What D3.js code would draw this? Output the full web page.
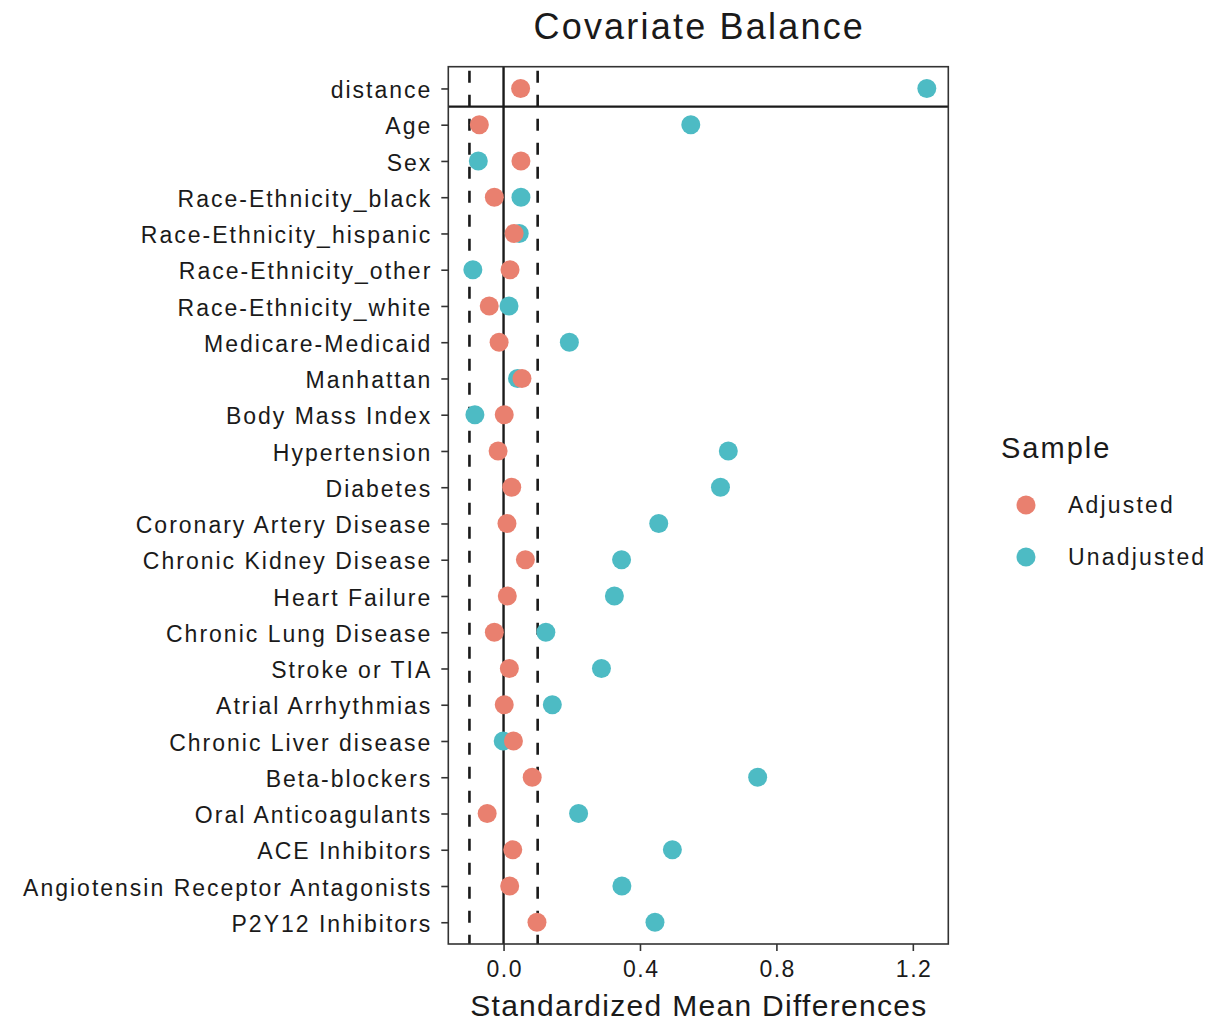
<!DOCTYPE html>
<html>
<head>
<meta charset="utf-8">
<script src="https://cdn.jsdelivr.net/npm/d3@7"></script>
<style>
  html, body { margin: 0; padding: 0; background: #fff; }
  svg { display: block; }
  text { font-family: "Liberation Sans", Arial, Helvetica, sans-serif; fill: #1a1a1a; }
</style>
</head>
<body>
<svg id="chart" width="1219" height="1024"></svg>
<script>
const covariates = [
  "distance", "Age", "Sex", "Race-Ethnicity_black", "Race-Ethnicity_hispanic",
  "Race-Ethnicity_other", "Race-Ethnicity_white", "Medicare-Medicaid", "Manhattan",
  "Body Mass Index", "Hypertension", "Diabetes", "Coronary Artery Disease",
  "Chronic Kidney Disease", "Heart Failure", "Chronic Lung Disease", "Stroke or TIA",
  "Atrial Arrhythmias", "Chronic Liver disease", "Beta-blockers", "Oral Anticoagulants",
  "ACE Inhibitors", "Angiotensin Receptor Antagonists", "P2Y12 Inhibitors"
];
const adjusted = [0.050, -0.071, 0.051, -0.027, 0.031, 0.019, -0.042, -0.013, 0.054, 0.002,
  -0.016, 0.024, 0.010, 0.064, 0.011, -0.027, 0.017, 0.002, 0.029, 0.084, -0.048, 0.027, 0.018, 0.098];
const unadjusted = [1.241, 0.549, -0.074, 0.051, 0.046, -0.090, 0.016, 0.193, 0.041, -0.084,
  0.659, 0.636, 0.455, 0.346, 0.325, 0.124, 0.287, 0.143, -0.001, 0.745, 0.220, 0.495, 0.347, 0.444];
const sampleNames = ["Adjusted", "Unadjusted"];
const sampleColors = ["#E9806F", "#4DBBC4"];
const xTicks = [0, 0.4, 0.8, 1.2];
const thresholds = [-0.1, 0.1];
const xDomain = [-0.162, 1.304];

const panel = { left: 448.3, top: 66.7, width: 500, height: 877.3 };
const svg = d3.select("#chart");

const x = d3.scaleLinear().domain(xDomain).range([panel.left, panel.left + panel.width]);
const y = d3.scalePoint().domain(covariates)
  .range([panel.top, panel.top + panel.height]).padding(0.6);
const color = d3.scaleOrdinal().domain(sampleNames).range(sampleColors);

// reference lines
const g = svg.append("g");
g.selectAll("line.thr").data(thresholds).join("line")
  .attr("class", "thr")
  .attr("x1", d => x(d)).attr("x2", d => x(d))
  .attr("y1", panel.top).attr("y2", panel.top + panel.height)
  .attr("stroke", "#1a1a1a").attr("stroke-width", 2.6)
  .attr("stroke-dasharray", "12,12").attr("stroke-dashoffset", -4);
g.append("line")
  .attr("x1", x(0)).attr("x2", x(0))
  .attr("y1", panel.top).attr("y2", panel.top + panel.height)
  .attr("stroke", "#1a1a1a").attr("stroke-width", 2.4);
// separator below distance
const sepY = (y(covariates[0]) + y(covariates[1])) / 2;
g.append("line")
  .attr("x1", panel.left).attr("x2", panel.left + panel.width)
  .attr("y1", sepY).attr("y2", sepY)
  .attr("stroke", "#1a1a1a").attr("stroke-width", 2.4);

// points: unadjusted first, adjusted on top
const pts = [];
covariates.forEach((c, i) => pts.push({ cov: c, val: unadjusted[i], s: "Unadjusted" }));
covariates.forEach((c, i) => pts.push({ cov: c, val: adjusted[i], s: "Adjusted" }));
svg.append("g").selectAll("circle").data(pts).join("circle")
  .attr("cx", d => x(d.val)).attr("cy", d => y(d.cov))
  .attr("r", 9.5).attr("fill", d => color(d.s));

// panel border
svg.append("rect")
  .attr("x", panel.left).attr("y", panel.top)
  .attr("width", panel.width).attr("height", panel.height)
  .attr("fill", "none").attr("stroke", "#333").attr("stroke-width", 1.6);

// x axis
const xAxis = svg.append("g")
  .attr("transform", `translate(0,${panel.top + panel.height})`)
  .call(d3.axisBottom(x).tickValues(xTicks).tickFormat(d3.format(".1f")).tickSize(7).tickPadding(10));
xAxis.select(".domain").remove();
xAxis.selectAll("line").attr("stroke", "#333").attr("stroke-width", 1.6);
xAxis.selectAll("text").attr("font-size", 23).attr("fill", "#1a1a1a")
  .attr("letter-spacing", 1.5).attr("dx", 0.75)
  .style("font-family", "'Liberation Sans', Arial, sans-serif");

// y axis
const yAxis = svg.append("g")
  .attr("transform", `translate(${panel.left},0)`)
  .call(d3.axisLeft(y).tickSize(7).tickPadding(11));
yAxis.select(".domain").remove();
yAxis.selectAll("line").attr("stroke", "#333").attr("stroke-width", 1.6);
yAxis.selectAll("text").attr("font-size", 23).attr("fill", "#1a1a1a")
  .attr("letter-spacing", 2.0).attr("dx", 2.0).attr("dy", "0.4em")
  .style("font-family", "'Liberation Sans', Arial, sans-serif");

// title
svg.append("text")
  .attr("x", panel.left + panel.width / 2 + 1).attr("y", 39)
  .attr("text-anchor", "middle").attr("font-size", 36).attr("letter-spacing", 2.2)
  .text("Covariate Balance");

// x axis title
svg.append("text")
  .attr("x", panel.left + panel.width / 2 + 0.6).attr("y", 1016)
  .attr("text-anchor", "middle").attr("font-size", 30).attr("letter-spacing", 1.3)
  .text("Standardized Mean Differences");

// legend
const legend = svg.append("g");
legend.append("text").attr("x", 1001).attr("y", 458)
  .attr("font-size", 29).attr("letter-spacing", 2.0).text("Sample");
const legY = [505, 557];
sampleNames.forEach((s, i) => {
  legend.append("circle").attr("cx", 1026).attr("cy", legY[i]).attr("r", 9.5).attr("fill", color(s));
  legend.append("text").attr("x", 1068).attr("y", legY[i] + 8)
    .attr("font-size", 23).attr("letter-spacing", 2.2).text(s);
});
</script>
</body>
</html>
